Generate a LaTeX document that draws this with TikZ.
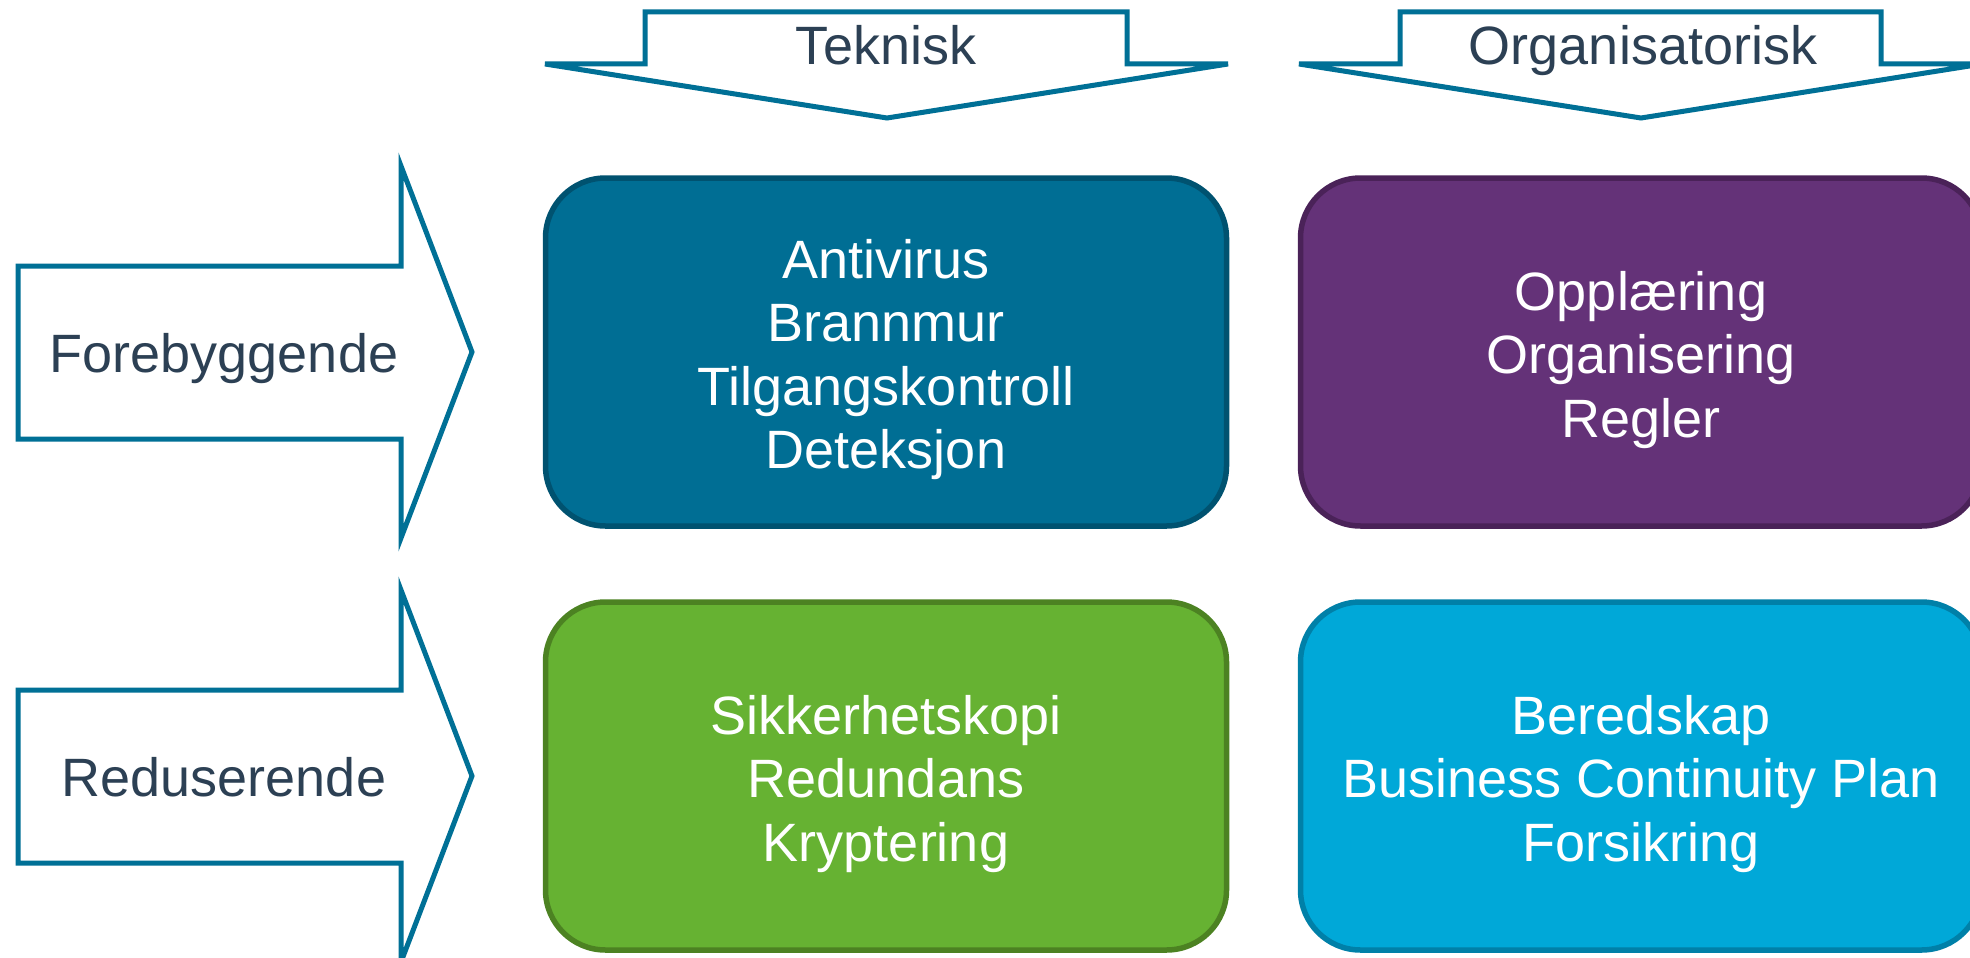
\documentclass[tikz,border=0pt]{standalone}
\usepackage{fontspec}
\setmainfont{Liberation Sans}
\definecolor{arrowline}{RGB}{0,112,150}
\definecolor{labeltext}{RGB}{44,64,84}
\definecolor{tekfill}{RGB}{0,110,148}
\definecolor{tekdraw}{RGB}{0,82,112}
\definecolor{orgfill}{RGB}{100,50,120}
\definecolor{orgdraw}{RGB}{74,34,88}
\definecolor{redfill}{RGB}{102,178,50}
\definecolor{reddraw}{RGB}{76,130,34}
\definecolor{bcpfill}{RGB}{0,168,216}
\definecolor{bcpdraw}{RGB}{0,128,168}
\begin{document}
\begin{tikzpicture}[x=1pt,y=-1pt,
  outline/.style={draw=arrowline, line width=5pt, line join=miter, fill=white},
  lbl/.style={text=labeltext, font=\fontsize{54pt}{63.5pt}\selectfont, anchor=base, inner sep=0pt},
  cell/.style={rounded corners=60pt, line width=5.5pt, minimum width=681pt, minimum height=348pt, inner sep=0pt},
  celltext/.style={text=white, font=\fontsize{54pt}{63.5pt}\selectfont, align=center, inner sep=0pt}
]
\useasboundingbox (0,0) rectangle (1970,958);
\clip (0,0) rectangle (1970,958);
\fill[white] (0,0) rectangle (1970,958);

% column header arrows
\draw[outline] (545,64) -- (645,64) -- (645,12) -- (1127,12) -- (1127,64) -- (1228,64) -- (887,118) -- cycle;
\draw[outline] (1299,64) -- (1400,64) -- (1400,12) -- (1881,12) -- (1881,64) -- (1982,64) -- (1641,118) -- cycle;
% row header arrows
\draw[outline] (18,266) -- (401,266) -- (401,166) -- (472,352) -- (401,538) -- (401,439) -- (18,439) -- cycle;
\draw[outline] (18,690) -- (401,690) -- (401,590) -- (472,776) -- (401,962) -- (401,863) -- (18,863) -- cycle;

\node[lbl] (tek) at (886,64) {Teknisk};
\node[lbl] (org) at (1643,64) {Organisatorisk};
\node[lbl] (fore) at (224,372) {Forebyggende};
\node[lbl] (redu) at (224,796) {Reduserende};

% cells
\node[cell, fill=tekfill, draw=tekdraw] (tf) at (886,352) {};
\node[cell, fill=orgfill, draw=orgdraw] (of) at (1641,352) {};
\node[cell, fill=redfill, draw=reddraw] (tr) at (886,776) {};
\node[cell, fill=bcpfill, draw=bcpdraw] (or) at (1641,776) {};

\node[celltext] (tft) at ([yshift=-9pt]tf.center) {\strut Antivirus\\Brannmur\\Tilgangskontroll\\Deteksjon\strut};
\node[celltext] (oft) at ([yshift=-9pt]of.center) {\strut Oppl\ae ring\\Organisering\\Regler\strut};
\node[celltext] (trt) at ([yshift=-9pt]tr.center) {\strut Sikkerhetskopi\\Redundans\\Kryptering\strut};
\node[celltext] (ort) at ([yshift=-9pt]or.center) {\strut Beredskap\\Business Continuity Plan\\Forsikring\strut};
\end{tikzpicture}
\end{document}
